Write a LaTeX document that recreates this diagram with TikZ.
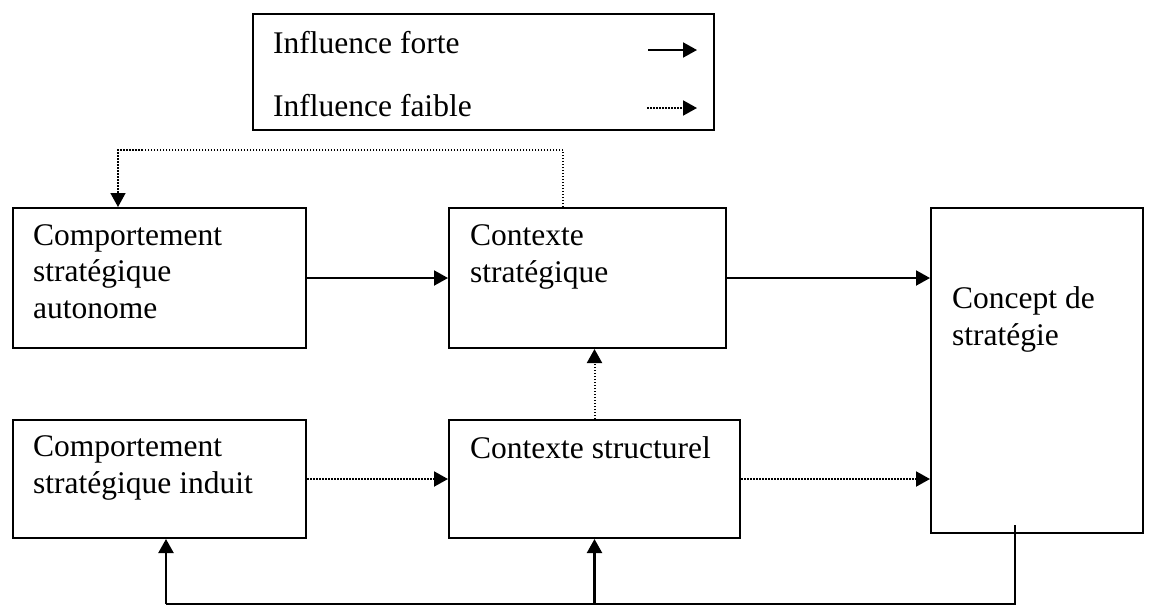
\documentclass[tikz,border=0pt]{standalone}
\usepackage{fontspec}
\setmainfont{Liberation Serif}
\usetikzlibrary{arrows.meta,calc}
\begin{document}
\begin{tikzpicture}[x=1pt,y=-1pt,
  box/.style={draw,line width=2pt,inner sep=0pt,anchor=north west},
  lbl/.style={font=\fontsize{31.5}{36.5}\selectfont,align=left,anchor=base west,inner sep=0pt},
  strong/.style={line width=2pt,-{Triangle[length=14pt,width=15pt]}},
  weak/.style={line width=2pt,dash pattern=on 1.5pt off 1.5pt,-{Triangle[length=14pt,width=15pt]}},
  thinweak/.style={line width=1.5pt,dash pattern=on 1.5pt off 1.5pt},
  ret/.style={line width=1.5pt},
  up/.style={line width=2.2pt,-{Triangle[length=14pt,width=15pt]}}]
\useasboundingbox (0,0) rectangle (1149,606);
% legend
\node[box,minimum width=461pt,minimum height=116pt] (L) at (252,13) {};
\node[lbl] (tL1) at (273,53) {Influence forte};
\node[lbl] (tL2) at (273,116) {Influence faible};
\coordinate (lfa) at (648,50);
\coordinate (lfb) at (697,50);
\coordinate (lwa) at (647,108);
\coordinate (lwb) at (697,108);
\draw[strong] (lfa) -- (lfb);
\draw[weak] (lwa) -- (lwb);
% boxes
\node[box,minimum width=293pt,minimum height=140pt] (A) at (12,207) {};
\node[box,minimum width=277pt,minimum height=140pt] (B) at (448,207) {};
\node[box,minimum width=212pt,minimum height=325pt] (C) at (930,207) {};
\node[box,minimum width=293pt,minimum height=118pt] (D) at (12,419) {};
\node[box,minimum width=291pt,minimum height=118pt] (E) at (448,419) {};
% texts (base = baseline of the last line)
\node[lbl] (tA) at (33,318) {Comportement\\stratégique\\autonome};
\node[lbl] (tB) at (470,282) {Contexte\\stratégique};
\node[lbl] (tC) at (952,345) {Concept de\\stratégie};
\node[lbl] (tD) at (33,493) {Comportement\\stratégique induit};
\node[lbl] (tE) at (470,458) {Contexte structurel};
% connectors
\draw[strong] (A.east) -- (B.west);
\draw[strong] (B.east) -- (B.east -| C.west);
\draw[weak] (D.east) -- (E.west);
\draw[weak] (E.east) -- (E.east -| C.west);
\draw[weak] (E.north) -- (E.north |- B.south);
\coordinate (ts) at ($(B.north west)+(115,0)$);
\coordinate (te) at ($(A.north west)+(106,0)$);
\draw[thinweak,-{Triangle[length=14pt,width=15pt]}] (ts) -- ++(0,-57) -| (te);
\coordinate (f) at (1015,525);
\coordinate (bl) at (166,604);
\draw[ret] (f) |- (bl);
\draw[up] (bl) -- (bl |- D.south);
\draw[up] (bl -| E.south) -- (E.south);
\end{tikzpicture}
\end{document}
